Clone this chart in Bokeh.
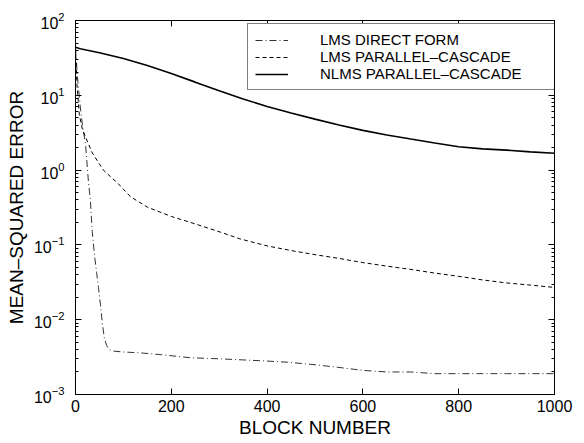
from bokeh.plotting import figure
from bokeh.models import (LinearAxis, LogAxis, Legend, LegendItem, FixedTicker,
                          LogTicker, Range1d, CustomJSTickFormatter)
from bokeh.embed import file_html
from bokeh.resources import INLINE

# ---- data ----
nlms_x = [0, 10, 25, 50, 100, 150, 200, 250, 300, 350, 400, 450, 500, 550,
          600, 650, 700, 750, 800, 850, 900, 950, 1000]
nlms_y = [44, 42, 40, 37, 31, 25, 19.5, 15, 11.5, 8.9, 7.1, 5.8, 4.8, 4.0,
          3.4, 2.95, 2.6, 2.3, 2.05, 1.92, 1.85, 1.75, 1.68]

lmspc_x = [0, 3, 8, 14, 21, 35, 58, 88, 115, 150, 200, 240, 300, 344, 400,
           450, 500, 550, 600, 650, 700, 750, 800, 850, 900, 950, 1000]
lmspc_y = [42, 14, 5.5, 3.6, 2.75, 1.7, 1.0, 0.67, 0.44, 0.32, 0.24, 0.2,
           0.15, 0.12, 0.097, 0.084, 0.074, 0.066, 0.058, 0.052, 0.047,
           0.042, 0.038, 0.034, 0.031, 0.029, 0.027]

lmsdf_x = [0, 5, 10, 15, 21, 27, 31, 35, 40, 44, 48, 52, 56, 60, 65, 70, 80,
           100, 136, 180, 240, 300, 350, 400, 443, 500, 550, 600, 650, 700,
           750, 800, 850, 900, 950, 1000]
lmsdf_y = [42, 15, 7, 3.8, 2.2, 0.7, 0.4, 0.15, 0.07, 0.043, 0.027, 0.016,
           0.009, 0.0058, 0.0045, 0.0040, 0.0038, 0.0037, 0.0036, 0.0034,
           0.0031, 0.0030, 0.0029, 0.0028, 0.0027, 0.0025, 0.0023, 0.0021,
           0.0020, 0.0020, 0.0019, 0.0019, 0.0019, 0.0019, 0.0019, 0.0019]

x_ticks = [0, 200, 400, 600, 800, 1000]
legend_labels = ["LMS DIRECT FORM", "LMS PARALLEL\u2013CASCADE",
                 "NLMS PARALLEL\u2013CASCADE"]

FONT = "Liberation Sans"

p = figure(width=580, height=440, y_axis_type="log",
           x_range=Range1d(0, 1000), y_range=Range1d(1e-3, 1e2),
           output_backend="svg", toolbar_location=None,
           min_border_left=75, min_border_right=26, min_border_top=20,
           min_border_bottom=45)
p.grid.visible = False
p.outline_line_color = "black"
p.outline_line_width = 1
p.background_fill_color = "white"
p.border_fill_color = "white"

r_df = p.line(lmsdf_x, lmsdf_y, line_color="#333333", line_width=1,
              line_dash="7 3 1 3")
r_pc = p.line(lmspc_x, lmspc_y, line_color="black", line_width=1,
              line_dash="4 3")
r_nl = p.line(nlms_x, nlms_y, line_color="black", line_width=1.6)

xa = p.xaxis[0]
xa.ticker = FixedTicker(ticks=x_ticks)
xa.axis_label = "BLOCK NUMBER"
ya = p.yaxis[0]
ya.ticker = LogTicker(num_minor_ticks=10)
ya.axis_label = "MEAN\u2013SQUARED ERROR"

for ax in (xa, ya):
    ax.major_label_text_font = FONT
    ax.major_label_text_font_size = "16px"
    ax.major_label_text_color = "black"
    ax.axis_label_text_font = FONT
    ax.axis_label_text_font_size = "19px"
    ax.axis_label_text_font_style = "normal"
    ax.axis_label_text_color = "black"
    ax.major_tick_in = 6
    ax.major_tick_out = 0
    ax.minor_tick_in = 3
    ax.minor_tick_out = 0
    ax.axis_line_color = "black"
    ax.major_tick_line_color = "black"
    ax.minor_tick_line_color = "black"
xa.minor_tick_line_color = None
xa.axis_label_standoff = 2
ya.axis_label_standoff = 4
xa.major_label_standoff = 5
ya.major_label_standoff = 11

blank = CustomJSTickFormatter(code="return ''")
top = LinearAxis(ticker=FixedTicker(ticks=x_ticks), formatter=blank,
                 major_label_standoff=0,
                 major_tick_in=6, major_tick_out=0, minor_tick_line_color=None,
                 axis_line_color="black")
p.add_layout(top, "above")
right = LogAxis(ticker=LogTicker(num_minor_ticks=10), formatter=blank,
                major_label_standoff=0,
                major_tick_in=6, major_tick_out=0, minor_tick_in=3, minor_tick_out=0,
                axis_line_color="black")
p.add_layout(right, "right")

legend = Legend(items=[LegendItem(label=legend_labels[0], renderers=[r_df]),
                       LegendItem(label=legend_labels[1], renderers=[r_pc]),
                       LegendItem(label=legend_labels[2], renderers=[r_nl])],
                location=(172, 304), label_text_font=FONT,
                label_text_font_size="15px", label_text_color="black",
                glyph_width=33, glyph_height=16, label_height=16,
                label_standoff=32, label_width=229, padding=7, spacing=0,
                margin=0, border_line_color="black", border_line_width=1,
                background_fill_color="white", background_fill_alpha=1)
p.add_layout(legend)

open("out.html", "w").write(file_html(p, INLINE))
